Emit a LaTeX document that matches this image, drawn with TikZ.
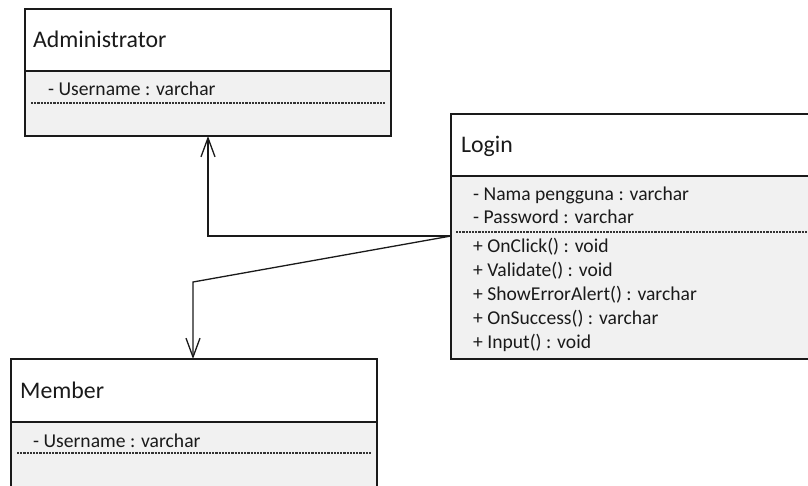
\documentclass[tikz,border=0pt]{standalone}
\usepackage{fontspec}
\setmainfont{Carlito}
\usetikzlibrary{arrows.meta,calc}
\definecolor{ink}{HTML}{1A1A1A}
\definecolor{bodyfill}{HTML}{F1F1F1}
\definecolor{sepgray}{HTML}{333333}

\begin{document}
\begin{tikzpicture}[x=1pt,y=-1pt,
  classhead/.style={draw=ink, line width=1.5pt, fill=white, rectangle,
    anchor=north west, inner sep=0pt, outer sep=0pt},
  classbody/.style={classhead, fill=bodyfill},
  classname/.style={anchor=base west, inner sep=0pt, font=\fontsize{23.8}{28}\selectfont, text=ink},
  member/.style={anchor=base west, inner sep=0pt, font=\fontsize{19.6}{23}\selectfont, text=ink},
  divider/.style={draw=sepgray, line width=1.3pt, dash pattern=on 2.2pt off 1pt},
  assoc/.style={draw=ink, line width=1.3pt,
    -{Straight Barb[length=19pt, width=14pt, line width=1.3pt]}}]

\useasboundingbox (0,0) rectangle (808,485);
\clip (0,0) rectangle (808,485);

% Administrator
\node[classhead, minimum width=366pt, minimum height=62pt] (admH) at (25,9) {};
\node[classbody, minimum width=366pt, minimum height=65pt] (admB) at (25,71) {};
\node[classname] (admT) at (33,47) {Administrator};
\node[member] (admA) at (48,95) {- Username : varchar};
\draw[divider] (31,103) -- (385,103);

% Login
\node[classhead, minimum width=420pt, minimum height=62pt] (logH) at (451,114) {};
\node[classbody, minimum width=420pt, minimum height=183pt] (logB) at (451,176) {};
\node[classname] (logT) at (461,152) {Login};
\node[member] (logA1) at (473,200) {- Nama pengguna : varchar};
\node[member] (logA2) at (473,223) {- Password : varchar};
\draw[divider] (456,232) -- (808,232);
\node[member] (logM1) at (473,252) {+ OnClick() : void};
\node[member] (logM2) at (473,276) {+ Validate() : void};
\node[member] (logM3) at (473,300) {+ ShowErrorAlert() : varchar};
\node[member] (logM4) at (473,324) {+ OnSuccess() : varchar};
\node[member] (logM5) at (473,348) {+ Input() : void};

% Member
\node[classhead, minimum width=366pt, minimum height=63pt] (memH) at (11,359) {};
\node[classbody, minimum width=366pt, minimum height=100pt] (memB) at (11,422) {};
\node[classname] (memT) at (20,398) {Member};
\node[member] (memA) at (33,447) {- Username : varchar};
\draw[divider] (17,453) -- (371,453);

% Associations from Login
\coordinate (bendA) at (208,236);
\coordinate (bendM) at (193,282);
\coordinate (logP) at ([yshift=-60pt]logB.north west);
\draw[assoc] (logP) -- (bendA) -- (bendA |- admB.south);
\draw[assoc] (logP) -- (bendM) -- (bendM |- memH.north);
\end{tikzpicture}
\end{document}
